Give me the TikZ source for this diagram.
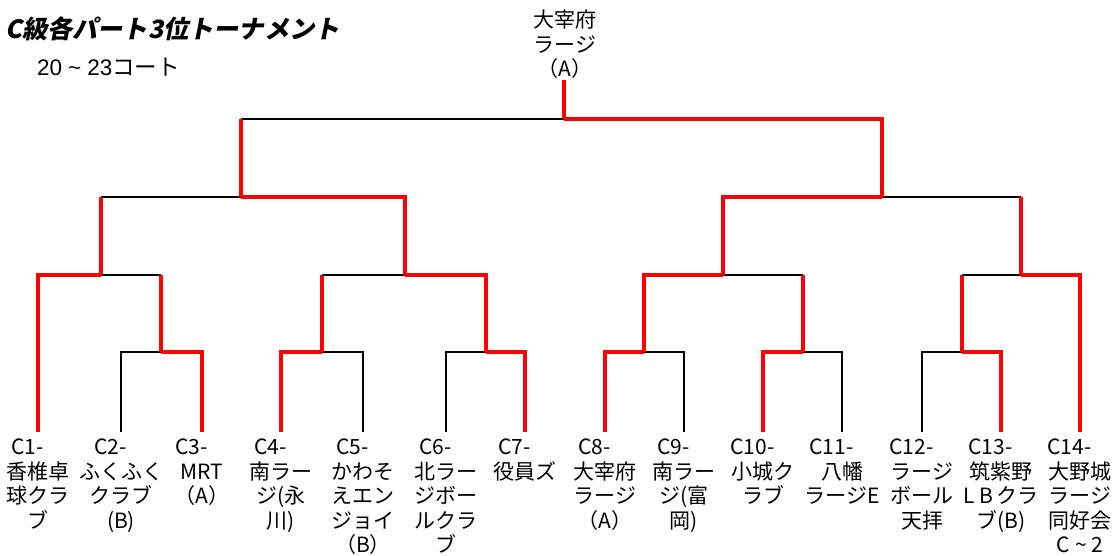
\documentclass[tikz,border=0pt]{standalone}
\usepackage{fontspec}
\setmainfont{Noto Sans CJK JP}
\newfontfamily\titlefont{Noto Sans CJK JP}[FakeSlant=0.2]
\newfontfamily\latinfont{Liberation Sans}
\begin{document}
\begin{tikzpicture}[x=1pt,y=-1pt,
  win/.style={draw=red, line width=4pt, line join=miter},
  lose/.style={draw=black, line width=2pt},
  leaf/.style={align=center, anchor=north, inner sep=0pt, font=\fontsize{21}{24.5}\selectfont},
]
\useasboundingbox (0,0) rectangle (1120,556);
% title
\node[anchor=base west, inner sep=0pt, font=\titlefont\bfseries\fontsize{25.2}{28}\selectfont] (title) at (5,39) {C級各パート3位トーナメント};
\node[anchor=base west, inner sep=0pt, font=\fontsize{22.5}{26}\selectfont] (sub) at (37,76) {{\latinfont 20\hspace{6pt}\textasciitilde\hspace{6pt}23}コート};
% root label
\node[leaf] (rt) at (565,10) {大宰府\\ラージ\\（A）};
% leaf coordinates
\foreach \i/\x in {1/38,2/121,3/202,4/281,5/363,6/446,7/525,8/605,9/684,10/763,11/842,12/922,13/1001,14/1080}
  \coordinate (l\i) at (\x,432);
% match coordinates
\coordinate (m23) at (161,352);
\coordinate (m45) at (322,352);
\coordinate (m67) at (486,352);
\coordinate (m89) at (644,352);
\coordinate (m1011) at (803,352);
\coordinate (m1213) at (962,352);
\coordinate (a) at (101,275);
\coordinate (b) at (405,275);
\coordinate (c) at (723,275);
\coordinate (d) at (1021,275);
\coordinate (e) at (241,197);
\coordinate (f) at (882,197);
\coordinate (g) at (564,119);
\coordinate (r) at (564,80);
% leaf labels
\node[leaf] (t1) at (l1 |- 0,438) {C1-\phantom{国}\\香椎卓\\球クラ\\ブ};
\node[leaf] (t2) at (l2 |- 0,438) {C2-\phantom{国}\\ふくふく\\クラブ\\(B)};
\node[leaf] (t3) at (l3 |- 0,438) {C3-\phantom{国}\\MRT\\（A）};
\node[leaf] (t4) at (l4 |- 0,438) {C4-\phantom{国}\\南ラー\\ジ(永\\川)};
\node[leaf] (t5) at (l5 |- 0,438) {C5-\phantom{国}\\かわそ\\えエン\\ジョイ\\（B）};
\node[leaf] (t6) at (l6 |- 0,438) {C6-\phantom{国}\\北ラー\\ジボー\\ルクラ\\ブ};
\node[leaf] (t7) at (l7 |- 0,438) {C7-\phantom{国}\\役員ズ};
\node[leaf] (t8) at (l8 |- 0,438) {C8-\phantom{国}\\大宰府\\ラージ\\（A）};
\node[leaf] (t9) at (l9 |- 0,438) {C9-\phantom{国}\\南ラー\\ジ(富\\岡)};
\node[leaf] (t10) at (l10 |- 0,438) {C10-\phantom{国}\\小城ク\\ラブ};
\node[leaf] (t11) at (l11 |- 0,438) {C11-\phantom{国}\\八幡\\ラージE};
\node[leaf] (t12) at (l12 |- 0,438) {C12-\phantom{国}\\ラージ\\ボール\\天拝};
\node[leaf] (t13) at (l13 |- 0,438) {C13-\phantom{国}\\筑紫野\\L\hspace{5pt}B\hspace{3pt}クラ\\ブ(B)};
\node[leaf] (t14) at (l14 |- 0,438) {C14-\phantom{国}\\大野城\\ラージ\\同好会\\C \textasciitilde{} 2};
% losing (black) segments
\draw[lose] (l2) |- (m23);
\draw[lose] (m23 |- a) -- (a);
\draw[lose] (a |- e) -- (e);
\draw[lose] (l5) |- (m45);
\draw[lose] (m45 |- b) -- (b);
\draw[lose] (l6) |- (m67);
\draw[lose] (e |- g) -- (g);
\draw[lose] (l9) |- (m89);
\draw[lose] (l11) |- (m1011);
\draw[lose] (m1011 |- c) -- (c);
\draw[lose] (l12) |- (m1213);
\draw[lose] (m1213 |- d) -- (d);
\draw[lose] (d |- f) -- (f);
% winning (red) segments
\draw[win] (l1) |- (a);
\draw[win] (l3) |- (m23);
\draw[win] (m23) -- (m23 |- a);
\draw[win] (a) -- (a |- e);
\draw[win] (l4) |- (m45);
\draw[win] (m45) -- (m45 |- b);
\draw[win] (l7) |- (m67);
\draw[win] (m67) |- (b);
\draw[win] (b) |- (e);
\draw[win] (e) -- (e |- g);
\draw[win] (l8) |- (m89);
\draw[win] (m89) |- (c);
\draw[win] (l10) |- (m1011);
\draw[win] (m1011) -- (m1011 |- c);
\draw[win] (c) |- (f);
\draw[win] (l13) |- (m1213);
\draw[win] (m1213) -- (m1213 |- d);
\draw[win] (l14) |- (d);
\draw[win] (d) -- (d |- f);
\draw[win] (f) |- (g);
\draw[win] (g) -- (r);
\end{tikzpicture}
\end{document}
